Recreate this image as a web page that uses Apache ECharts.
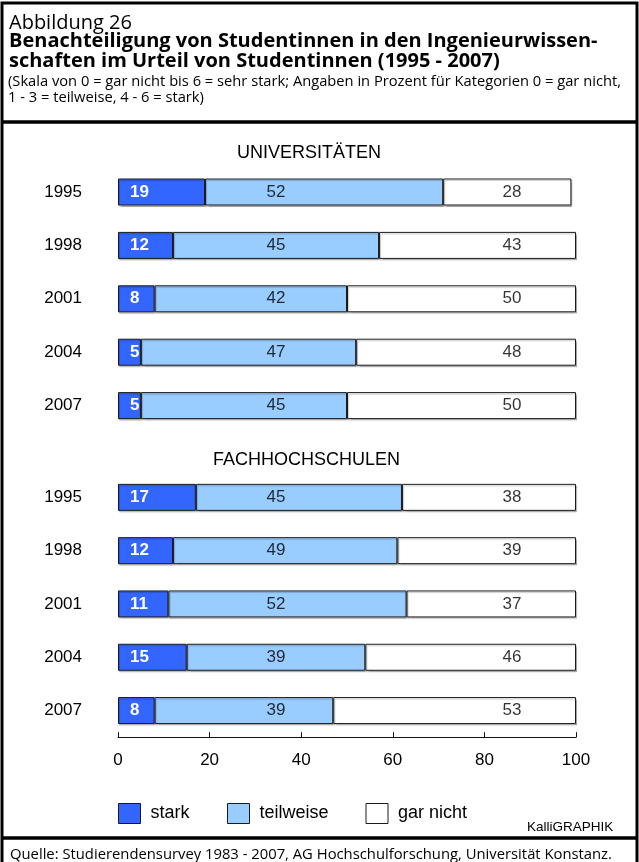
<!DOCTYPE html>
<html>
<head>
<meta charset="utf-8">
<script src="https://cdn.jsdelivr.net/npm/echarts@6/dist/echarts.min.js"></script>
<style>
  html, body { margin: 0; padding: 0; background: #fff; }
  #chart { width: 639px; height: 862px; }
</style>
</head>
<body>
<div id="chart"></div>
<script>
var years = ['1995', '1998', '2001', '2004', '2007'];
var uniStark = [19, 12, 8, 5, 5];
var uniTeil = [52, 45, 42, 47, 45];
var uniGar = [28, 43, 50, 48, 50];
var fhStark = [17, 12, 11, 15, 8];
var fhTeil = [45, 49, 52, 39, 39];
var fhGar = [38, 39, 37, 46, 53];
var xTicks = [0, 20, 40, 60, 80, 100];

var dom = document.getElementById('chart');
var myChart = echarts.init(dom, null, { renderer: 'canvas' });

var chartFont = 'Liberation Sans, Arial, sans-serif';
var headFont = 'Open Sans, Noto Sans, sans-serif';
var barStyle = {
    borderColor: '#1a1a1a',
    borderWidth: 1,
    shadowColor: 'rgba(0,0,0,0.22)',
    shadowOffsetX: 1,
    shadowOffsetY: 1.5,
    shadowBlur: 1
};

// column where the middle and right labels sit (axis units)
var teilLabelX = 34.5;
var garLabelX = 86;

function barSeries(name, data, color, idx, withLabel) {
    return {
        name: name,
        type: 'bar',
        stack: 's' + idx,
        xAxisIndex: idx,
        yAxisIndex: idx,
        barWidth: 27,
        data: data,
        itemStyle: Object.assign({ color: color }, barStyle),
        label: withLabel ? {
            show: true,
            position: 'insideLeft',
            distance: 12,
            color: '#fff',
            fontWeight: 'bold',
            fontSize: 17,
            fontFamily: chartFont
        } : { show: false },
        emphasis: { disabled: true },
        silent: true
    };
}

function labelSeries(values, xPos, idx) {
    return {
        type: 'scatter',
        xAxisIndex: idx,
        yAxisIndex: idx,
        symbolSize: 0,
        silent: true,
        data: values.map(function (v, i) { return [xPos, i, v]; }),
        label: {
            show: true,
            position: 'inside',
            formatter: function (p) { return p.value[2]; },
            color: '#000',
            fontSize: 17,
            fontFamily: chartFont
        },
        z: 5
    };
}

function yAxisFor(idx) {
    return {
        type: 'category',
        gridIndex: idx,
        data: years,
        inverse: true,
        axisLine: { show: false },
        axisTick: { show: false },
        axisLabel: { margin: 36, fontSize: 17, color: '#000', fontFamily: chartFont }
    };
}

function xAxisFor(idx, visible) {
    return {
        type: 'value',
        gridIndex: idx,
        min: 0,
        max: 100,
        interval: 20,
        splitLine: { show: false },
        axisLine: { show: visible, lineStyle: { color: '#111', width: 1 } },
        axisTick: { show: visible, inside: true, length: 5, lineStyle: { color: '#111' } },
        axisLabel: {
            show: visible,
            margin: 15,
            fontSize: 17,
            color: '#000',
            fontFamily: chartFont,
            formatter: function (v) { return xTicks.indexOf(v) >= 0 ? String(v) : ''; }
        }
    };
}

function legendAt(name, left) {
    return {
        data: [name],
        left: left,
        top: 803,
        padding: 0,
        itemWidth: 22,
        itemHeight: 20,
        selectedMode: false,
        icon: 'rect',
        itemStyle: { borderColor: '#1a1a1a', borderWidth: 1 },
        textStyle: { fontSize: 18, color: '#000', fontFamily: chartFont, padding: [0, 0, 0, 5] }
    };
}

function headText(x, y, text, size, weight, font) {
    return {
        type: 'text',
        x: x,
        y: y,
        silent: true,
        style: {
            text: text,
            fontSize: size,
            fontWeight: weight || 'normal',
            fontFamily: font || headFont,
            fill: '#000',
            verticalAlign: 'middle'
        }
    };
}

var option = {
    backgroundColor: '#fff',
    animation: false,
    grid: [
        { left: 118, width: 458, top: 165.3, height: 267 },
        { left: 118, width: 458, top: 470.7, height: 266.5 }
    ],
    xAxis: [xAxisFor(0, false), xAxisFor(1, true)],
    yAxis: [yAxisFor(0), yAxisFor(1)],
    legend: [
        legendAt('stark', 118),
        legendAt('teilweise', 227),
        legendAt('gar nicht', 365.5)
    ],
    series: [
        barSeries('stark', uniStark, '#3366ff', 0, true),
        barSeries('teilweise', uniTeil, '#99ccff', 0, false),
        barSeries('gar nicht', uniGar, '#ffffff', 0, false),
        barSeries('stark', fhStark, '#3366ff', 1, true),
        barSeries('teilweise', fhTeil, '#99ccff', 1, false),
        barSeries('gar nicht', fhGar, '#ffffff', 1, false),
        labelSeries(uniTeil, teilLabelX, 0),
        labelSeries(uniGar, garLabelX, 0),
        labelSeries(fhTeil, teilLabelX, 1),
        labelSeries(fhGar, garLabelX, 1)
    ],
    graphic: [
        // frame and separators
        { type: 'rect', shape: { x: 2, y: 3, width: 635, height: 870 }, style: { fill: null, stroke: '#000', lineWidth: 3 }, silent: true },
        { type: 'line', shape: { x1: 2, y1: 122, x2: 637, y2: 122 }, style: { stroke: '#000', lineWidth: 3.5 }, silent: true },
        { type: 'line', shape: { x1: 2, y1: 838, x2: 637, y2: 838 }, style: { stroke: '#000', lineWidth: 3.5 }, silent: true },
        // header
        headText(9, 23, 'Abbildung 26', 20),
        headText(9, 41.5, 'Benachteiligung von Studentinnen in den Ingenieurwissen-', 20, 'bold'),
        headText(9, 61, 'schaften im Urteil von Studentinnen (1995 - 2007)', 20, 'bold'),
        headText(8, 82, '(Skala von 0 = gar nicht bis 6 = sehr stark; Angaben in Prozent für Kategorien 0 = gar nicht,', 14.7),
        headText(8, 98, '1 - 3 = teilweise, 4 - 6 = stark)', 14.7),
        // section titles
        headText(237, 153, 'UNIVERSITÄTEN', 18, 'normal', chartFont),
        headText(213, 460, 'FACHHOCHSCHULEN', 18, 'normal', chartFont),
        // credit and source
        headText(527, 827, 'KalliGRAPHIK', 13.5, 'normal', chartFont),
        headText(10, 855, 'Quelle: Studierendensurvey 1983 - 2007, AG Hochschulforschung, Universität Konstanz.', 14.8)
    ]
};

if (option && typeof option === 'object') {
    myChart.setOption(option, true);
}
</script>
</body>
</html>
